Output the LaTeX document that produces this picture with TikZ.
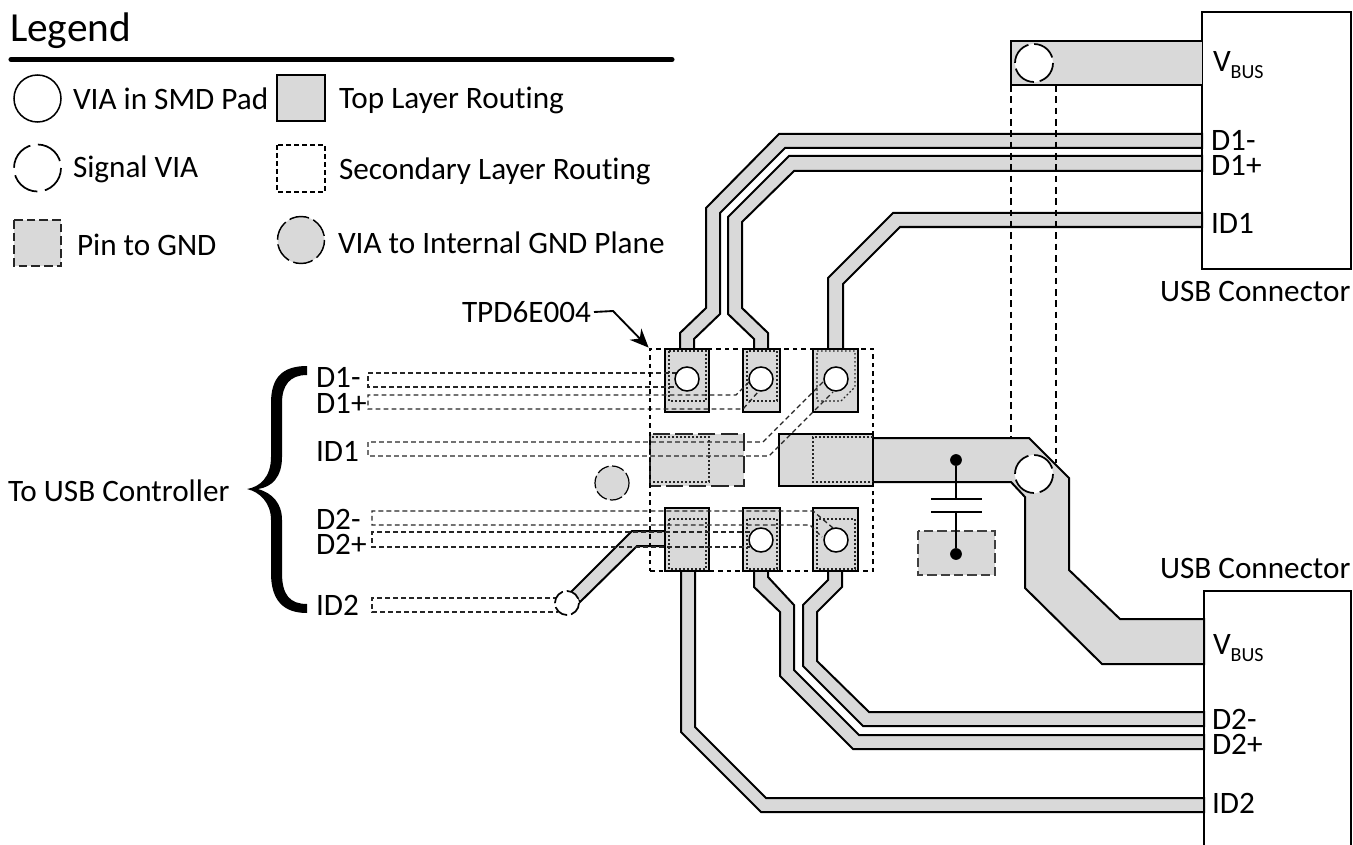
\documentclass[tikz,border=0pt]{standalone}
\usepackage{fontspec}
\setmainfont{Carlito}[Ligatures=NoCommon]
\usetikzlibrary{arrows.meta}
\definecolor{cu}{HTML}{D9D9D9}
\newcommand{\fsz}{\fontsize{23.4}{26}\selectfont}
\newcommand{\fsub}{\fontsize{15}{16}\selectfont}
\newcommand{\fleg}{\fontsize{31}{34}\selectfont}
\newcommand{\vbus}{V\raisebox{-0.22em}{\fsub BUS}}
\newcommand{\tracepoly}[1]{\fill[cu] #1 -- cycle; \draw[edge] #1;}
\tikzset{
  edge/.style={draw=black,line width=1.5pt,line join=miter},
  padbox/.style={fill=cu,draw=black,line width=1.8pt},
  inner/.style={draw=black!85,line width=.9pt,dash pattern=on 1.3pt off 1.7pt},
  second/.style={draw=black!85,line width=1pt,dash pattern=on 3.6pt off 2.4pt},
  pinbox/.style={fill=cu,draw=black!85,line width=1.5pt,dash pattern=on 13pt off 4pt},
  viapad/.style={fill=white,draw=black,line width=1.15pt},
  viasig/.style={fill=white,draw=black,line width=1.3pt,dash pattern=on 18pt off 4.4pt},
  viagnd/.style={fill=cu,draw=black,line width=.9pt,dash pattern=on 9.5pt off 2.5pt},
  lbl/.style={inner sep=0pt,outer sep=0pt,anchor=west,font=\fsz,text=black,yshift=-.75pt},
  conn/.style={draw=black,line width=1.4pt},
  dotn/.style={circle,fill=black,inner sep=0pt,minimum size=8.8pt},
  chip/.style={draw=black,line width=2.1pt,dash pattern=on 3.4pt off 3pt,rectangle,inner sep=0pt,
     minimum width=167.25pt,minimum height=166.5pt}
}
\begin{document}
\begin{tikzpicture}[x=.75pt,y=-.75pt]
\useasboundingbox (0,0) rectangle (1353,845);
% legend
\node[lbl,font=\fleg] (legtitle) at (10,30) {Legend};
\draw[line width=3.8pt,line cap=round] (11,59.5) -- (672,59.5);
\draw[viapad] (37.5,98.5) circle (23.5);
\node[lbl] (lega) at (73,98) {VIA in SMD Pad};
\draw[padbox,line width=1.5pt] (277,75) rectangle (325,121);
\node[lbl] (legb) at (339,99) {Top Layer Routing};
\draw[viasig,dash pattern=on 22pt off 5.75pt] (37.5,168) circle (23.5);
\node[lbl] (legc) at (73,168) {Signal VIA};
\draw[second,draw=black,line width=1.2pt] (277,145) rectangle (325,192);
\node[lbl] (legd) at (339,170) {Secondary Layer Routing};
\draw[pinbox,line width=1.2pt,dash pattern=on 6.5pt off 3pt] (14,220) rectangle (61,266);
\node[lbl] (lege) at (77,244) {Pin to GND};
\draw[viagnd,line width=1.1pt,dash pattern=on 15pt off 3.5pt] (301,240) circle (23.5);
\node[lbl] (legf) at (338,242) {VIA to Internal GND Plane};
% connectors
\draw[conn] (1202,12) rectangle (1351,269);
\draw[conn] (1204,845) -- (1204,591) -- (1351,591) -- (1351,845);
% top layer traces, upper
\tracepoly{(1202,41) -- (1011,41) -- (1011,85) -- (1202,85)}
\tracepoly{(680,349) -- (680,333) -- (706,308) -- (706,208) -- (779,134) -- (1202,134) -- (1202,148) -- (785,148) -- (720,213) -- (720,314) -- (694,339) -- (694,349)}
\tracepoly{(754,349) -- (754,339) -- (728,314) -- (728,217) -- (789,156) -- (1202,156) -- (1202,171) -- (794,171) -- (742,222) -- (742,308) -- (768,333) -- (768,349)}
\tracepoly{(828,349) -- (828,278) -- (893,213) -- (1202,213) -- (1202,227) -- (900,227) -- (843,284) -- (843,349)}
% lower
\tracepoly{(873,438) -- (1029,438) -- (1069,478) -- (1069,570) -- (1120,619) -- (1204,619) -- (1204,664) -- (1102,664) -- (1025,588) -- (1025,497) -- (1011,482) -- (873,482)}
\tracepoly{(754,571) -- (754,587) -- (780,612) -- (780,676) -- (853,749) -- (1204,749) -- (1204,735) -- (859,735) -- (794,670) -- (794,605) -- (768,577) -- (768,571)}
\tracepoly{(842,571) -- (842,587) -- (817,612) -- (817,661) -- (869,712) -- (1204,712) -- (1204,726) -- (863,726) -- (803,666) -- (803,605) -- (828,580) -- (828,571)}
\tracepoly{(681,571) -- (681,732) -- (761,812) -- (1204,812) -- (1204,798) -- (766,798) -- (695,727) -- (695,571)}
\tracepoly{(665,531) -- (632,531) -- (571,592) -- (580,602) -- (637,546) -- (665,546)}
% pads
\draw[padbox] (665,349) rectangle (709,412);
\draw[padbox] (743,349) rectangle (780,412);
\draw[padbox] (813,349) rectangle (858,412);
\draw[padbox] (665,508) rectangle (709,571);
\draw[padbox] (743,508) rectangle (780,571);
\draw[padbox] (813,508) rectangle (858,571);
\draw[padbox] (779,434) rectangle (873,486);
\draw[pinbox] (650,434) rectangle (744,486);
\fill[cu] (612,483) circle (17);
\draw[viagnd] (612,483) circle (17);
% dotted inner outlines
\draw[inner] (669,351) rectangle (706,401);
\draw[inner] (747,351) rectangle (777,401);
\draw[inner] (817,351) -- (855,351) -- (855,387) -- (841,401) -- (817,401) -- cycle;
\draw[inner] (650,437) rectangle (709,482);
\draw[inner] (873,437) -- (813,437) -- (813,482) -- (873,482);
\draw[inner] (669,519) rectangle (706,569);
\draw[inner] (747,519) rectangle (777,569);
\draw[inner] (817,519) rectangle (855,569);
% secondary routing
\draw[second] (677,373) -- (368,373) -- (368,387) -- (677,387);
\draw[second] (749,382) -- (736,395) -- (368,395) -- (368,409) -- (743,409) -- (758,392);
\draw[second] (823,382) -- (763,442) -- (368,442) -- (368,456) -- (769,456) -- (833,392);
\draw[second] (833,528) -- (813,511) -- (372,511) -- (372,525) -- (810,525) -- (822,537);
\draw[second] (750,532) -- (372,532) -- (372,547) -- (750,547);
\draw[second] (558,598) -- (372,598) -- (372,612) -- (558,612);
\draw[second,draw=black,line width=1.1pt,dash pattern=on 5pt off 3.5pt] (1011,85) -- (1011,438);
\draw[second,draw=black,line width=1.1pt,dash pattern=on 5pt off 3.5pt] (1056,85) -- (1056,463);
% vias
\foreach \px/\py in {687/379,761/379,836/379,761/540,836/540}
  \draw[viapad] (\px,\py) circle (12);
\draw[viasig,dash pattern=on 11pt off 3pt] (567,603) circle (12);
\draw[viasig] (1034,63) circle (19);
\draw[viasig] (1034,474) circle (19);
% chip outline
\node[chip] (tpd) at (761.5,460) {};
\node[lbl] (tpdl) at (462,311) {TPD6E004};
\coordinate (bend) at (613,311);
\draw[line width=1.4pt,-{Stealth[length=14pt,width=12pt]}] (tpdl.east) ++(3,0) -- (bend) -- (tpd.north west);
% capacitor
\draw[pinbox,draw=black!75,line width=1.1pt,dash pattern=on 7pt off 3pt] (918,531) rectangle (995,575);
\node[dotn] (capa) at (956,460) {};
\node[dotn] (capb) at (956,554) {};
\coordinate (plta) at (956,499);
\coordinate (pltb) at (956,512);
\draw[line width=1.3pt] (capa) -- (plta);
\draw[line width=1.3pt] (pltb) -- (capb);
\draw[line width=1.6pt] (931,499) -- (982,499);
\draw[line width=1.9pt] (931,512) -- (982,512);
% brace
\fill[black] (307,366) .. controls (283,366) and (271,377) .. (271,403) -- (271,457)
  .. controls (271,477) and (260,487) .. (247,489)
  .. controls (260,492) and (271,503) .. (271,520) -- (271,573)
  .. controls (271,600) and (283,613) .. (307,613) -- (307,604)
  .. controls (290,604) and (282,595) .. (282,573) -- (282,520)
  .. controls (282,503) and (272,493) .. (258,489)
  .. controls (272,487) and (282,477) .. (282,457) -- (282,403)
  .. controls (282,385) and (290,375) .. (307,375) -- cycle;
% labels
\node[lbl] (ctl) at (8,490) {To USB Controller};
\node[lbl] (ld1m) at (316,376) {D1-};
\node[lbl] (ld1p) at (316,402) {D1+};
\node[lbl] (lid1) at (316,450) {ID1};
\node[lbl] (ld2m) at (316,518) {D2-};
\node[lbl] (ld2p) at (316,543) {D2+};
\node[lbl] (lid2) at (316,604) {ID2};
\node[lbl] (rv1) at (1213,64) {\vbus};
\node[lbl] (rd1m) at (1211,139) {D1-};
\node[lbl] (rd1p) at (1211,164) {D1+};
\node[lbl] (rid1) at (1211,222) {ID1};
\node[lbl] (usb1) at (1160,290) {USB Connector};
\node[lbl] (usb2) at (1160,567) {USB Connector};
\node[lbl] (rv2) at (1213,647) {\vbus};
\node[lbl] (rd2m) at (1212,718) {D2-};
\node[lbl] (rd2p) at (1212,743) {D2+};
\node[lbl] (rid2) at (1212,802) {ID2};
\end{tikzpicture}
\end{document}
